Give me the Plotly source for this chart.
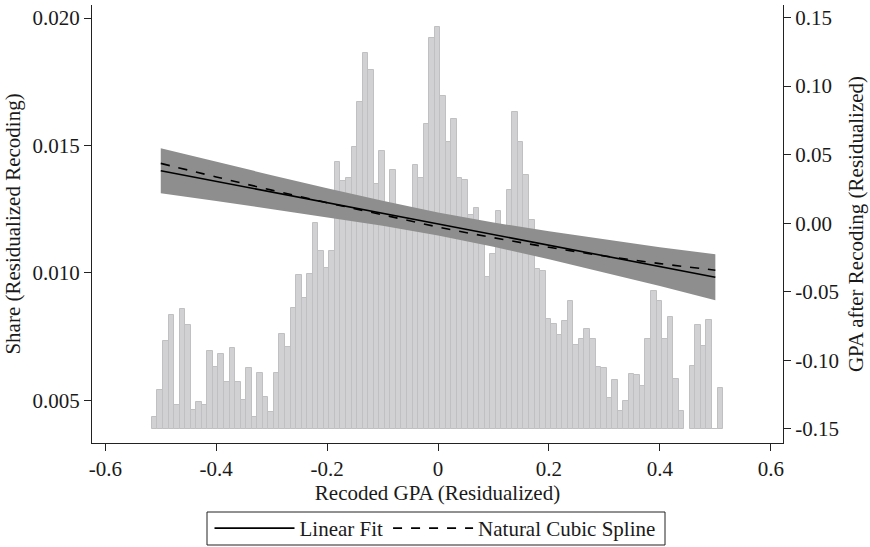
import plotly.graph_objects as go

# ---------------- data ----------------
# histogram: share per bin (bin width 0.01)
bin_start = -0.516
bin_width = 0.01
share = [
    0.00433, 0.00539, 0.00734, 0.00834, 0.00480, 0.00860, 0.00797, 0.00463, 0.00495, 0.00483,
    0.00695, 0.00632, 0.00683, 0.00572, 0.00707, 0.00572, 0.00500, 0.00625, 0.00434, 0.00609,
    0.00513, 0.00454, 0.00609, 0.00762, 0.00709, 0.00864, 0.00990, 0.00903, 0.00994, 0.01194,
    0.01085, 0.01021, 0.01085, 0.01434, 0.01362, 0.01371, 0.01494, 0.01669, 0.01862, 0.01795,
    0.01348, 0.01477, 0.01227, 0.01402, 0.01246, 0.01238, 0.01215, 0.01422, 0.01371, 0.01584,
    0.01921, 0.01964, 0.01694, 0.01513, 0.01604, 0.01371, 0.01364, 0.01227, 0.01253, 0.01160,
    0.00984, 0.01073, 0.01242, 0.01148, 0.01325, 0.01630, 0.01513, 0.01384, 0.01207, 0.01015,
    0.01007, 0.00818, 0.00801, 0.00755, 0.00810, 0.00889, 0.00716, 0.00742, 0.00779, 0.00742,
    0.00631, 0.00627, 0.00507, 0.00579, 0.00457, 0.00496, 0.00605, 0.00601, 0.00555, 0.00740,
    0.00928, 0.00889, 0.00740, 0.00825, 0.00582, 0.00457, None, 0.00634, 0.00795, 0.00712,
    0.00814, 0.00389, 0.00550,
]
bar_base = 0.00386

# fitted relationships (right axis), read at these x positions
fit_x = [-0.5, -0.4, -0.3, -0.2, -0.1, 0.0, 0.1, 0.2, 0.3, 0.4, 0.5]
linear_fit = [0.0382, 0.0304, 0.0227, 0.0149, 0.0072, -0.0006, -0.0084, -0.0161, -0.0239, -0.0317, -0.0394]
ci_upper = [0.0546, 0.0446, 0.0350, 0.0255, 0.0163, 0.0078, 0.0004, -0.0059, -0.0119, -0.0175, -0.0226]
ci_lower = [0.0218, 0.0162, 0.0104, 0.0043, -0.0019, -0.0090, -0.0172, -0.0263, -0.0359, -0.0459, -0.0562]
spline_fit = [0.0436, 0.0337, 0.0241, 0.0149, 0.0061, -0.0028, -0.0106, -0.0176, -0.0239, -0.0295, -0.0343]

x_tickvals = [-0.6, -0.4, -0.2, 0.0, 0.2, 0.4, 0.6]
x_ticktext = ["-0.6", "-0.4", "-0.2", "0", "0.2", "0.4", "0.6"]
yl_tickvals = [0.005, 0.010, 0.015, 0.020]
yl_ticktext = ["0.005", "0.010", "0.015", "0.020"]
yr_tickvals = [-0.15, -0.10, -0.05, 0.0, 0.05, 0.10, 0.15]
yr_ticktext = ["-0.15", "-0.10", "-0.05", "0.00", "0.05", "0.10", "0.15"]

# ---------------- figure ----------------
FONT = "Liberation Serif"
TXT = "#1a1a1a"
FS = 21
W, H = 870, 547

centers = [round(bin_start + bin_width * (i + 0.5), 4) for i in range(len(share))]
heights = [None if s is None else s - bar_base for s in share]

fig = go.Figure()

fig.add_trace(go.Bar(
    x=centers, y=heights, base=bar_base, width=bin_width,
    marker=dict(color="rgb(209,209,211)", line=dict(color="rgb(192,192,195)", width=1)),
    showlegend=False, hoverinfo="skip", yaxis="y",
))

band_x = fit_x + fit_x[::-1]
band_y = ci_upper + ci_lower[::-1]
fig.add_trace(go.Scatter(
    x=band_x, y=band_y, fill="toself", mode="lines",
    line=dict(width=0, color="rgb(142,142,142)"),
    fillcolor="rgb(142,142,142)", showlegend=False, hoverinfo="skip", yaxis="y2",
))

fig.add_trace(go.Scatter(
    x=fit_x, y=linear_fit, mode="lines", name="Linear Fit",
    line=dict(color="black", width=1.6), yaxis="y2",
))
fig.add_trace(go.Scatter(
    x=fit_x, y=spline_fit, mode="lines", name="Natural Cubic Spline",
    line=dict(color="black", width=1.6, dash="dash", shape="spline"), yaxis="y2",
))

axis_common = dict(
    showgrid=False, zeroline=False, showline=True, linecolor="#222", linewidth=1.2,
    ticks="outside", ticklen=7, tickcolor="#222", tickwidth=1.2,
    tickfont=dict(family=FONT, size=FS, color=TXT),
)

# legend frame (pixel box converted to paper coordinates of the plot area)
ml, mr, mt, mb = 92, 87, 5, 104
pw, ph = W - ml - mr, H - mt - mb
box_px = (207, 512, 665, 545)
fig.add_shape(
    type="rect", xref="paper", yref="paper",
    x0=(box_px[0] - ml) / pw, x1=(box_px[2] - ml) / pw,
    y0=(H - mb - box_px[1]) / ph, y1=(H - mb - box_px[3]) / ph,
    line=dict(color="#222", width=1), fillcolor="rgba(0,0,0,0)", layer="above",
)

fig.update_layout(
    width=W, height=H,
    margin=dict(l=ml, r=mr, t=mt, b=mb),
    paper_bgcolor="white", plot_bgcolor="white",
    bargap=0,
    font=dict(family=FONT, size=FS, color=TXT),
    xaxis=dict(
        range=[-0.624, 0.622], tickvals=x_tickvals, ticktext=x_ticktext,
        title=dict(text="Recoded GPA (Residualized)", font=dict(family=FONT, size=FS, color=TXT), standoff=2),
        **axis_common,
    ),
    yaxis=dict(
        range=[0.003323, 0.020514], tickvals=yl_tickvals, ticktext=yl_ticktext,
        title=dict(text="Share (Residualized Recoding)", font=dict(family=FONT, size=FS, color=TXT), standoff=6),
        **axis_common,
    ),
    yaxis2=dict(
        range=[-0.16036, 0.15912], tickvals=yr_tickvals, ticktext=yr_ticktext,
        overlaying="y", side="right",
        title=dict(text="GPA after Recoding (Residualized)", font=dict(family=FONT, size=FS, color=TXT), standoff=10),
        **axis_common,
    ),
    legend=dict(
        orientation="h", x=0.5, xanchor="center", xref="container",
        y=1 - 528.5 / H, yanchor="middle", yref="container",
        borderwidth=0, bgcolor="rgba(0,0,0,0)",
        font=dict(family=FONT, size=FS, color=TXT),
        itemwidth=80, tracegroupgap=0,
    ),
)

fig.write_html("out.html")
